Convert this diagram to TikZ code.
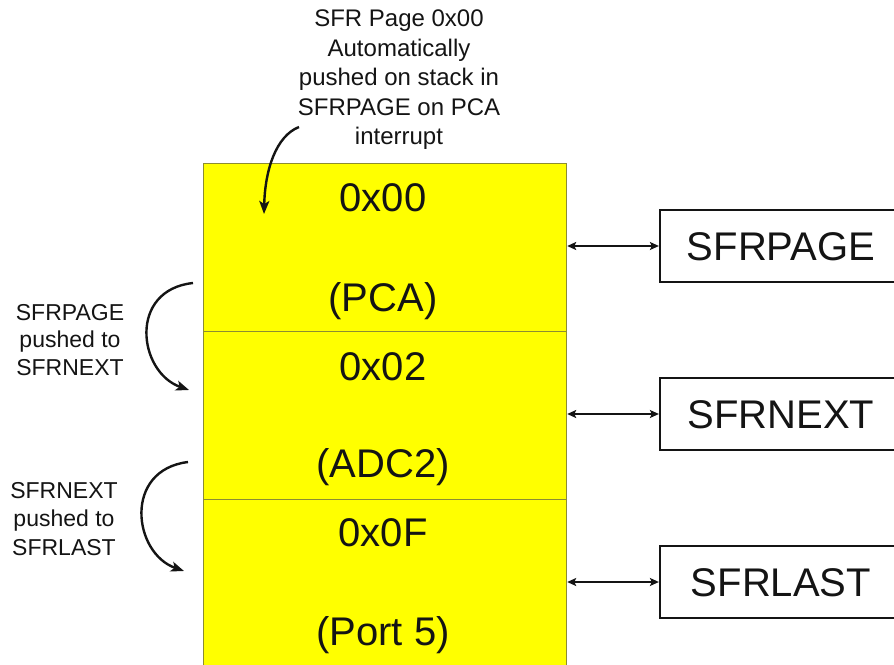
\documentclass[tikz,border=0pt]{standalone}
\usepackage{fontspec}
\setmainfont{Liberation Sans}
\usetikzlibrary{arrows.meta}
\definecolor{cellyellow}{RGB}{255,255,0}
\definecolor{celledge}{RGB}{140,140,50}
\definecolor{inkc}{RGB}{20,20,20}
\begin{document}
\begin{tikzpicture}[x=1pt,y=-1pt,
  cell/.style={draw=celledge, line width=1.2pt, fill=cellyellow, minimum width=363pt, minimum height=168pt, anchor=north west, inner sep=0pt},
  celltext/.style={font=\fontsize{40}{44}\selectfont, text=inkc, text height=28.5pt, text depth=0pt, inner sep=0pt},
  regbox/.style={draw=inkc, line width=2.2pt, fill=white, minimum width=242pt, minimum height=72pt, font=\fontsize{40}{44}\selectfont, text=inkc, text height=28.5pt, text depth=0pt},
  note/.style={align=center, text=inkc, inner sep=0pt},
  link/.style={draw=inkc, line width=1.8pt, {Stealth[length=9pt,width=8pt,inset=2pt]}-{Stealth[length=9pt,width=8pt,inset=2pt]}},
  curvearrow/.style={draw=inkc, line width=2.4pt, -{Stealth[length=13pt,width=10pt,inset=3pt]}}
]
\useasboundingbox (0,0) rectangle (894,664);
\clip (0,0) rectangle (894,664);

% stack cells
\node[cell] (c1) at (203,163) {};
\node[cell] (c2) at (203,331) {};
\node[cell] (c3) at (203,499) {};

\node[celltext] (v1) at (383,197) {0x00};
\node[celltext] (n1) at (383,297) {(PCA)};
\node[celltext] (v2) at (383,366) {0x02};
\node[celltext] (n2) at (383,463) {(ADC2)};
\node[celltext] (v3) at (383,532) {0x0F};
\node[celltext] (n3) at (383,631) {(Port 5)};

% registers
\node[regbox] (rp) at (781,246) {SFRPAGE};
\node[regbox] (rn) at (781,414) {SFRNEXT};
\node[regbox] (rl) at (781,582) {SFRLAST};

\draw[link] (rp.west -| c1.east) -- (rp.west);
\draw[link] (rn.west -| c2.east) -- (rn.west);
\draw[link] (rl.west -| c3.east) -- (rl.west);

% top annotation
\node[note, font=\fontsize{24}{29.5}\selectfont] (top) at (399,80)
  {SFR Page 0x00\\Automatically\\pushed on stack in\\SFRPAGE on PCA\\interrupt};
\coordinate (t0) at (299,127);
\coordinate (t1) at (264,214);
\draw[curvearrow] (t0) .. controls (276,136) and (265,170) .. (t1);

% left annotations
\node[note, font=\fontsize{23}{27.5}\selectfont] (l1) at (70,340)
  {SFRPAGE\\pushed to\\SFRNEXT};
\node[note, font=\fontsize{23}{28.5}\selectfont] (l2) at (64,519)
  {SFRNEXT\\pushed to\\SFRLAST};

\coordinate (a0) at (193,283);
\coordinate (a1) at (189,390);
\draw[curvearrow] (a0) .. controls (128,290) and (138,372) .. (a1);
\coordinate (b0) at (188,462);
\coordinate (b1) at (184,571);
\draw[curvearrow] (b0) .. controls (123,470) and (133,553) .. (b1);
\end{tikzpicture}
\end{document}
